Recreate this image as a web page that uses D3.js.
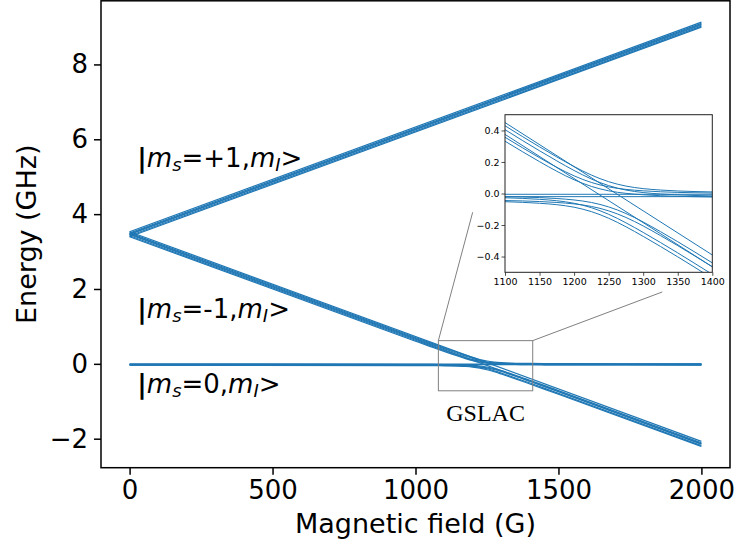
<!DOCTYPE html>
<html>
<head>
<meta charset="utf-8">
<script src="https://cdn.jsdelivr.net/npm/d3@7"></script>
<style>
  body { margin: 0; background: #fff; }
  text { font-family: "DejaVu Sans", sans-serif; fill: #000; }
</style>
</head>
<body>
<svg id="chart" width="734" height="548"></svg>
<script>
// field values (G) where the GSLAC branches were read
var fieldGrid = [0, 1000, 1050, 1100, 1125, 1150, 1175, 1200, 1225, 1250, 1275, 1300, 1325, 1350, 1400, 1450, 1500, 2000];

// upper branches: start on ms=-1, end on ms=0 (GHz)
var upperBranches = [
  [3.497, 0.704, 0.566, 0.430, 0.362, 0.296, 0.232, 0.171, 0.117, 0.075, 0.047, 0.031, 0.022, 0.016, 0.010, 0.006, 0.004, -0.002],
  [3.472, 0.679, 0.541, 0.405, 0.337, 0.271, 0.207, 0.146, 0.092, 0.050, 0.022, 0.006, -0.003, -0.009, -0.015, -0.019, -0.021, -0.027],
  [3.422, 0.630, 0.493, 0.357, 0.291, 0.227, 0.166, 0.112, 0.070, 0.042, 0.026, 0.017, 0.011, 0.007, 0.003, 0.000, -0.002, -0.007],
  [3.397, 0.605, 0.468, 0.332, 0.266, 0.202, 0.141, 0.087, 0.045, 0.017, 0.001, -0.008, -0.014, -0.018, -0.022, -0.025, -0.027, -0.032]
];
// lower branches: start on ms=0, end on ms=-1 (GHz)
var lowerBranches = [
  [-0.007, -0.014, -0.016, -0.020, -0.022, -0.026, -0.032, -0.041, -0.057, -0.085, -0.127, -0.181, -0.242, -0.306, -0.440, -0.576, -0.714, -2.108],
  [-0.032, -0.039, -0.041, -0.045, -0.047, -0.051, -0.057, -0.066, -0.082, -0.110, -0.152, -0.206, -0.267, -0.331, -0.465, -0.601, -0.739, -2.133],
  [-0.012, -0.020, -0.023, -0.027, -0.031, -0.037, -0.046, -0.062, -0.090, -0.132, -0.186, -0.247, -0.311, -0.377, -0.513, -0.650, -0.788, -2.183],
  [-0.037, -0.045, -0.048, -0.052, -0.056, -0.062, -0.071, -0.087, -0.115, -0.157, -0.211, -0.272, -0.336, -0.402, -0.538, -0.675, -0.813, -2.208]
];

// levels that do not take part in the anticrossing, given at 0 G and 2000 G
var endField = [0, 2000];
var plusOneLevels = [
  [3.530, 9.130], [3.497, 9.097], [3.472, 9.072], [3.455, 9.055], [3.422, 9.022], [3.397, 8.997]
];
var minusOneStraight = [[3.530, -2.070], [3.455, -2.145]];
var zeroFlat = [[-0.005, -0.005], [-0.020, -0.020]];

var xTicks = [0, 500, 1000, 1500, 2000];
var yTicks = [-2, 0, 2, 4, 6, 8];
var insetXTicks = [1100, 1150, 1200, 1250, 1300, 1350, 1400];
var insetYTicks = [-0.4, -0.2, 0.0, 0.2, 0.4];

var stateLabels = [
  {text: "+1", b: 27, e: 5.25},
  {text: "-1", b: 27, e: 1.23},
  {text: "0",  b: 27, e: -0.77}
];

var blue = "#1f77b4";
var svg = d3.select("#chart");

var x = d3.scaleLinear().domain([-100, 2100]).range([101, 730]);
var y = d3.scaleLinear().domain([-2.775, 9.7]).range([467.7, 0.8]);

// all curves as arrays of {b, e}
var series = [];
plusOneLevels.forEach(function(v) { series.push(endField.map(function(b, i) { return {b: b, e: v[i]}; })); });
minusOneStraight.forEach(function(v) { series.push(endField.map(function(b, i) { return {b: b, e: v[i]}; })); });
zeroFlat.forEach(function(v) { series.push(endField.map(function(b, i) { return {b: b, e: v[i]}; })); });
upperBranches.concat(lowerBranches).forEach(function(v) {
  series.push(fieldGrid.map(function(b, i) { return {b: b, e: v[i]}; }));
});

var line = d3.line()
  .x(function(d) { return x(d.b); })
  .y(function(d) { return y(d.e); })
  .curve(d3.curveMonotoneX);

svg.append("g")
  .selectAll("path")
  .data(series)
  .enter().append("path")
    .attr("d", line)
    .attr("fill", "none")
    .attr("stroke", blue)
    .attr("stroke-width", 1.2);

// axes
var minusFmt = function(d) { return d < 0 ? "\u2212" + Math.abs(d) : String(d); };
var xAxis = svg.append("g")
  .attr("transform", "translate(0," + y.range()[0] + ")")
  .call(d3.axisBottom(x).tickValues(xTicks).tickSize(7).tickPadding(6).tickFormat(minusFmt));
var yAxis = svg.append("g")
  .attr("transform", "translate(" + x.range()[0] + ",0)")
  .call(d3.axisLeft(y).tickValues(yTicks).tickSize(7).tickPadding(6).tickFormat(minusFmt));
[xAxis, yAxis].forEach(function(a) {
  a.select(".domain").remove();
  a.selectAll("line").attr("stroke", "#000").attr("stroke-width", 1.5);
  a.selectAll("text").attr("font-size", 26).attr("font-family", "DejaVu Sans").attr("fill", "#000");
});

svg.append("rect")
  .attr("x", x.range()[0]).attr("y", y.range()[1])
  .attr("width", x.range()[1] - x.range()[0])
  .attr("height", y.range()[0] - y.range()[1])
  .attr("fill", "none").attr("stroke", "#000").attr("stroke-width", 1.5);

svg.append("text")
  .attr("x", (x.range()[0] + x.range()[1]) / 2)
  .attr("y", 533)
  .attr("text-anchor", "middle")
  .attr("font-size", 27)
  .text("Magnetic field (G)");

svg.append("text")
  .attr("transform", "translate(36," + (y.range()[0] + y.range()[1]) / 2 + ") rotate(-90)")
  .attr("text-anchor", "middle")
  .attr("font-size", 27)
  .text("Energy (GHz)");

// state labels
stateLabels.forEach(function(s) {
  var t = svg.append("text").attr("x", x(s.b)).attr("y", y(s.e)).attr("font-size", 26);
  t.append("tspan").attr("font-weight", "bold").text("|");
  t.append("tspan").attr("font-style", "italic").text("m");
  t.append("tspan").attr("font-style", "italic").attr("font-size", 18).attr("dy", 4).text("s");
  t.append("tspan").attr("dy", -4).text("=" + s.text + ",");
  t.append("tspan").attr("font-style", "italic").text("m");
  t.append("tspan").attr("font-style", "italic").attr("font-size", 18).attr("dy", 4).text("I");
  t.append("tspan").attr("dy", -4).text(">");
});

// zoom box, connectors and GSLAC label
var zoomBox = {b0: 1080, b1: 1410, e0: -0.72, e1: 0.62};
var connectors = [
  {from: [zoomBox.b0, zoomBox.e1], to: [1200, 4.05]},
  {from: [zoomBox.b1, zoomBox.e1], to: [1863, 1.92]}
];
svg.append("rect")
  .attr("x", x(zoomBox.b0)).attr("y", y(zoomBox.e1))
  .attr("width", x(zoomBox.b1) - x(zoomBox.b0))
  .attr("height", y(zoomBox.e0) - y(zoomBox.e1))
  .attr("fill", "none").attr("stroke", "#808080").attr("stroke-width", 1);
svg.selectAll(".conn").data(connectors).enter().append("line")
  .attr("x1", function(d) { return x(d.from[0]); })
  .attr("y1", function(d) { return y(d.from[1]); })
  .attr("x2", function(d) { return x(d.to[0]); })
  .attr("y2", function(d) { return y(d.to[1]); })
  .attr("stroke", "#808080").attr("stroke-width", 1);
svg.append("text")
  .attr("x", x(1245)).attr("y", y(-1.54))
  .attr("text-anchor", "middle")
  .style("font-family", "'Liberation Serif', serif")
  .attr("font-size", 24)
  .text("GSLAC");

// inset
var ix = d3.scaleLinear().domain([1100, 1400]).range([505, 712.3]);
var iy = d3.scaleLinear().domain([-0.5, 0.5]).range([272.3, 114.7]);
var inset = svg.append("g");
inset.append("rect")
  .attr("x", ix.range()[0]).attr("y", iy.range()[1])
  .attr("width", ix.range()[1] - ix.range()[0])
  .attr("height", iy.range()[0] - iy.range()[1])
  .attr("fill", "#fff");
svg.append("clipPath").attr("id", "insetClip")
  .append("rect")
  .attr("x", ix.range()[0]).attr("y", iy.range()[1])
  .attr("width", ix.range()[1] - ix.range()[0])
  .attr("height", iy.range()[0] - iy.range()[1]);

var insetLine = d3.line()
  .x(function(d) { return ix(d.b); })
  .y(function(d) { return iy(d.e); })
  .curve(d3.curveMonotoneX);
inset.append("g")
  .attr("clip-path", "url(#insetClip)")
  .selectAll("path")
  .data(series)
  .enter().append("path")
    .attr("d", insetLine)
    .attr("fill", "none")
    .attr("stroke", blue)
    .attr("stroke-width", 1);

var ixAxis = inset.append("g")
  .attr("transform", "translate(0," + iy.range()[0] + ")")
  .call(d3.axisBottom(ix).tickValues(insetXTicks).tickSize(3.5).tickPadding(2).tickFormat(function(d) { return String(d); }));
var iyAxis = inset.append("g")
  .attr("transform", "translate(" + ix.range()[0] + ",0)")
  .call(d3.axisLeft(iy).tickValues(insetYTicks).tickSize(3.5).tickPadding(2)
    .tickFormat(function(d) { var s = d3.format(".1f")(Math.abs(d)); return d < 0 ? "\u2212" + s : s; }));
[ixAxis, iyAxis].forEach(function(a) {
  a.select(".domain").remove();
  a.selectAll("line").attr("stroke", "#222").attr("stroke-width", 0.8);
  a.selectAll("text").attr("font-size", 9.5).attr("font-family", "DejaVu Sans").attr("fill", "#000");
});
inset.append("rect")
  .attr("x", ix.range()[0]).attr("y", iy.range()[1])
  .attr("width", ix.range()[1] - ix.range()[0])
  .attr("height", iy.range()[0] - iy.range()[1])
  .attr("fill", "none").attr("stroke", "#222").attr("stroke-width", 1);
</script>
</body>
</html>
